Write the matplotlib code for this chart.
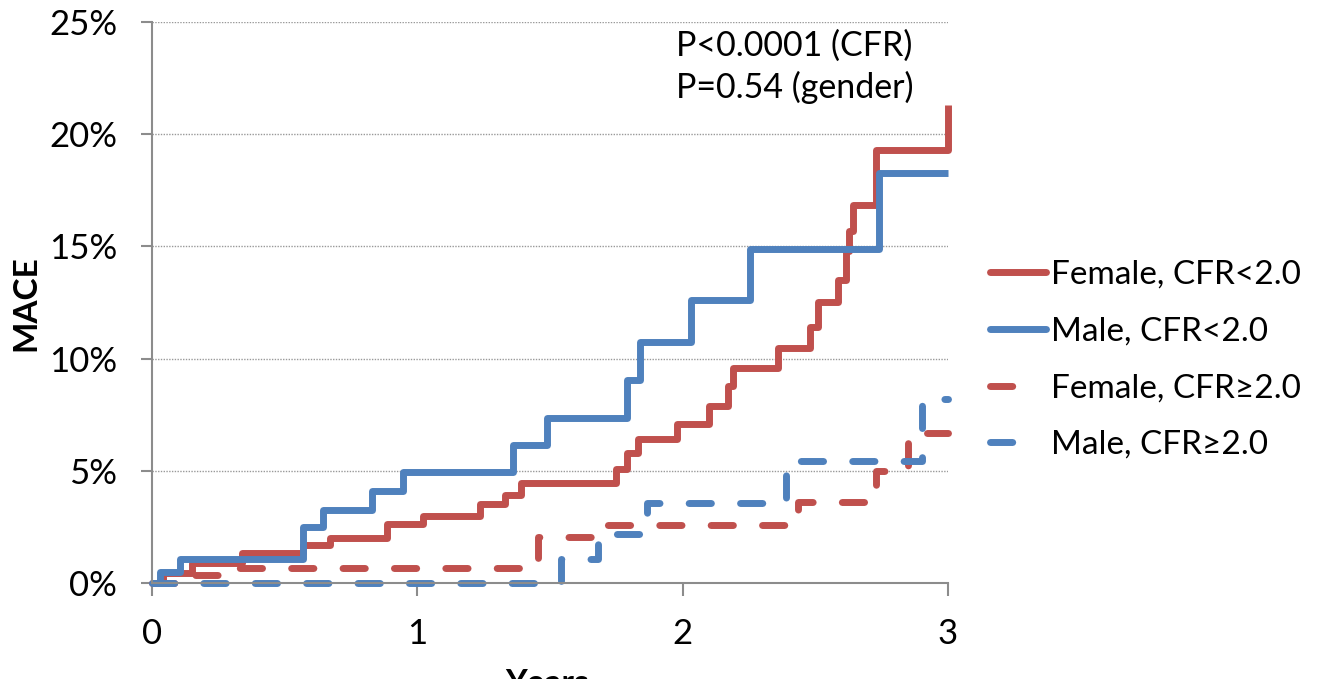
import matplotlib.pyplot as plt
from matplotlib.lines import Line2D
from matplotlib.ticker import FuncFormatter

# Kaplan-Meier style cumulative MACE (%)
female_lo_t = [0, 0.04, 0.15, 0.34, 0.57, 0.67, 0.885, 1.02, 1.235, 1.33, 1.39,
               1.75, 1.79, 1.83, 1.98, 2.10, 2.17, 2.19, 2.36, 2.48, 2.51, 2.585,
               2.615, 2.625, 2.64, 2.73, 3.0]
female_lo_y = [0, 0.45, 0.9, 1.35, 1.7, 2.0, 2.65, 3.0, 3.5, 3.9, 4.45,
               5.1, 5.8, 6.4, 7.1, 7.9, 8.8, 9.6, 10.45, 11.4, 12.5, 13.5,
               14.8, 15.7, 16.85, 19.3, 21.3]

male_lo_t = [0, 0.03, 0.105, 0.57, 0.645, 0.83, 0.945, 1.36, 1.49, 1.79, 1.84,
             2.03, 2.255, 2.74, 3.0]
male_lo_y = [0, 0.5, 1.07, 2.5, 3.25, 4.1, 4.95, 6.15, 7.35, 9.05, 10.75,
             12.6, 14.9, 18.25, 18.25]

female_hi_t = [0, 0.105, 0.27, 1.40, 1.455, 1.71, 2.435, 2.73, 2.85, 3.0]
female_hi_y = [0, 0.35, 0.65, 1.07, 2.05, 2.6, 3.6, 5.0, 6.7, 6.7]

male_hi_t = [0, 1.54, 1.68, 1.865, 2.39, 2.90, 3.0]
male_hi_y = [0, 1.05, 2.2, 3.55, 5.45, 8.2, 8.2]

labels = ['Female, CFR<2.0', 'Male, CFR<2.0', 'Female, CFR\u22652.0', 'Male, CFR\u22652.0']
red = '#C0504D'
blue = '#4F81BD'

plt.rcParams['font.family'] = ['Lato', 'DejaVu Sans']

fig = plt.figure(figsize=(13.18, 6.79), dpi=100)
ax = fig.add_axes([0.1153, 0.1414, 0.604, 0.8262])

lw = 5
dash = (0, (3.2, 4.2))
series = [
    (female_lo_t, female_lo_y, red, '-'),
    (male_lo_t, male_lo_y, blue, '-'),
    (female_hi_t, female_hi_y, red, dash),
    (male_hi_t, male_hi_y, blue, dash),
]
handles = []
for (t, y, c, ls), lab in zip(series, labels):
    ax.step(t, y, where='post', color=c, lw=lw, linestyle=ls,
            solid_capstyle='butt', dash_capstyle='round', clip_on=False)
    # legend handle: dashed series show a single dash, like the original
    hls = '-' if ls == '-' else (0, (3.2, 20))
    handles.append(Line2D([], [], color=c, lw=lw, linestyle=hls, label=lab,
                          solid_capstyle='round', dash_capstyle='round'))

ax.set_xlim(0, 3)
ax.set_ylim(0, 25)
ax.set_xticks([0, 1, 2, 3])
ax.set_yticks([0, 5, 10, 15, 20, 25])
ax.yaxis.set_major_formatter(FuncFormatter(lambda v, p: '%d%%' % v))
ax.grid(axis='y', linestyle=(0, (1, 1)), color='#999999', lw=1)
ax.set_axisbelow(True)

for s in ['top', 'right']:
    ax.spines[s].set_visible(False)
for s in ['left', 'bottom']:
    ax.spines[s].set_color('#8c8c8c')
    ax.spines[s].set_linewidth(1.5)
ax.tick_params(axis='both', colors='#8c8c8c', width=1.5, labelsize=25, labelcolor='black')
ax.tick_params(axis='x', length=9, pad=16)
ax.tick_params(axis='y', length=8, pad=17)

fig.text(26 / 1318, 1 - 303 / 679, 'MACE', rotation=90, ha='center', va='center',
         fontsize=24, fontweight='bold')
fig.text(0.415, -0.007, 'Years', ha='center', va='center', fontsize=24, fontweight='bold')

fig.text(676 / 1318, 1 - 30 / 679, 'P<0.0001 (CFR)\nP=0.54 (gender)', ha='left', va='top',
         fontsize=24.5, linespacing=1.3)

leg = ax.legend(handles=handles, loc='center left', bbox_to_anchor=(0.751, 0.47),
                bbox_transform=fig.transFigure, frameon=False, fontsize=24,
                handlelength=1.7, handletextpad=0.15, labelspacing=0.8,
                borderaxespad=0, borderpad=0)

fig.savefig('out.png', dpi=100)
